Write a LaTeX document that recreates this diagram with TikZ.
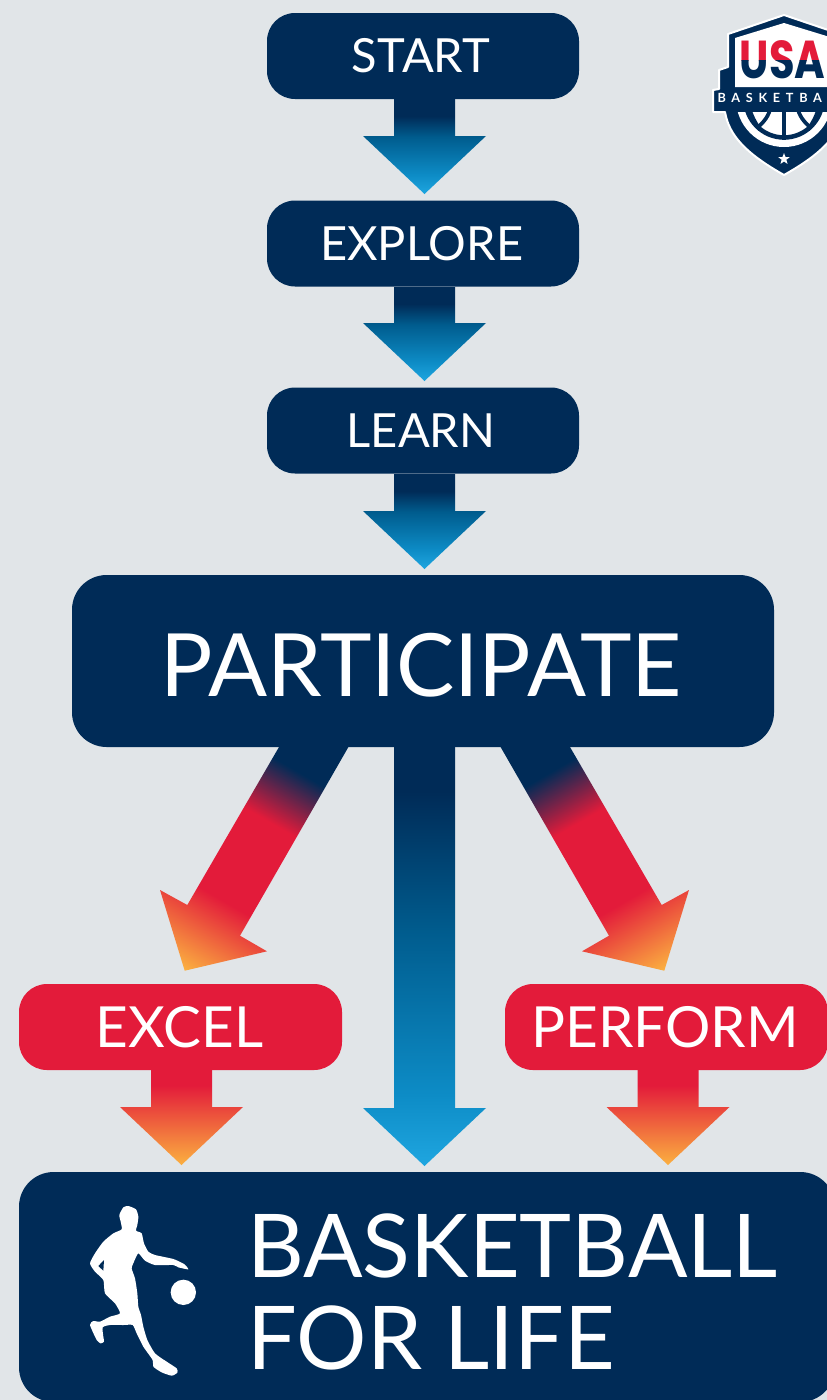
\documentclass[tikz,border=0pt]{standalone}
\usepackage{fontspec}
\setmainfont{Lato}
\newfontfamily\usafont{Poppins}
\newfontfamily\bannerfont[LetterSpace=45]{Lato}
\usetikzlibrary{calc,shapes.geometric}
\definecolor{bgc}{HTML}{E1E5E8}
\definecolor{navyc}{HTML}{002B57}
\definecolor{redc}{HTML}{E31B3A}
\definecolor{brightc}{HTML}{1FA6E0}
\definecolor{midbluec}{HTML}{0D8CC6}
\definecolor{deepbluec}{HTML}{005C8E}
\definecolor{orangec}{HTML}{FBB040}
\pgfdeclareverticalshading{blueSmall}{100bp}{color(0bp)=(brightc);color(25bp)=(brightc);color(35bp)=(midbluec);color(55bp)=(deepbluec);color(66bp)=(navyc);color(100bp)=(navyc)}
\pgfdeclareverticalshading{blueLong}{100bp}{color(0bp)=(brightc);color(25bp)=(brightc);color(33.5bp)=(midbluec);color(53bp)=(deepbluec);color(69.7bp)=(navyc);color(100bp)=(navyc)}
\pgfdeclareverticalshading{redSmall}{100bp}{color(0bp)=(orangec);color(25bp)=(orangec);color(67bp)=(redc);color(100bp)=(redc)}
\pgfdeclareverticalshading{diagShade}{100bp}{color(0bp)=(orangec);color(25bp)=(orangec);color(39.4bp)=(redc);color(56bp)=(redc);color(66.5bp)=(navyc);color(100bp)=(navyc)}
\tikzset{
  flowbox/.style={rectangle,rounded corners=21pt,inner sep=0pt,text=white,minimum height=64.5pt},
  navybox/.style={flowbox,fill=navyc,minimum width=234pt,font=\fontsize{35.3}{38}\selectfont},
  redbox/.style={flowbox,fill=redc,minimum width=242.25pt,font=\fontsize{42.5}{46}\selectfont},
  bigbox/.style={rectangle,rounded corners=26pt,inner sep=0pt,fill=navyc,text=white},
}
% vertical block arrow: from base coordinate to tip coordinate
\newcommand{\vblock}[3]{\shade[shading=#3]
  ($(#1)+(-30.5,0)$) -- ($(#1)+(30.5,0)$) -- ($(#2)+(30.5,-58)$) -- ($(#2)+(61.5,-58)$) -- (#2)
  -- ($(#2)+(-61.5,-58)$) -- ($(#2)+(-30.5,-58)$) -- cycle;}
\begin{document}
\begin{tikzpicture}[x=0.75pt,y=-0.75pt]
\useasboundingbox (0,0) rectangle (827,1400);
\fill[bgc] (0,0) rectangle (827,1400);
\clip (0,0) rectangle (827,1400);

% boxes
\node[navybox] (start) at (423,56) {START\kern3pt};
\node[navybox] (explore) at (423,243.5) {EXPLORE\kern2pt};
\node[navybox] (learn) at (423,430.5) {LEARN\kern3pt};
\node[bigbox,minimum width=526.5pt,minimum height=129pt,text height=54pt,font=\fontsize{65.5}{70}\selectfont] (participate) at (423,661) {PARTICIPATE\kern3pt};
\node[redbox] (excel) at (180.5,1027) {EXCEL\kern1.5pt};
\node[redbox] (perform) at (666.5,1027) {PERFORM\kern2pt};
\node[bigbox,minimum width=612pt,minimum height=172.5pt] (life) at (427,1287) {};
\node[anchor=west,inner sep=0pt,text=white,align=left,font=\fontsize{66}{69.5}\selectfont] (lifetext) at (247,1292) {BASKETBALL\\FOR LIFE};

% arrow ends
\coordinate (a1) at (424.5,99);   \coordinate (t1) at (424.5,194);
\coordinate (a2) at (424.5,287);  \coordinate (t2) at (424.5,381);
\coordinate (a3) at (424.5,474);  \coordinate (t3) at (424.5,569);
\coordinate (a4) at (424.5,747);  \coordinate (t4) at (424.5,1166);
\coordinate (a5) at (181.5,1070); \coordinate (t5) at (181.5,1165);
\coordinate (a6) at (668,1070);   \coordinate (t6) at (668,1165);
\coordinate (dl) at (314,746.5);  \coordinate (tl) at (184.7,970.7);
\coordinate (dr) at (535,746.5);  \coordinate (tr) at (664.3,970.7);
\coordinate (cl) at (253.75,850.9);
\coordinate (cr) at (595.25,850.9);

\vblock{a1}{t1}{blueSmall}
\vblock{a2}{t2}{blueSmall}
\vblock{a3}{t3}{blueSmall}
\vblock{a4}{t4}{blueLong}
\vblock{a5}{t5}{redSmall}
\vblock{a6}{t6}{redSmall}

\begin{scope}
\clip ($(dl)+(-34.7,0)$) -- ($(dl)+(34.7,0)$) -- ($(tl)+(55.3,-35)$) -- ($(tl)+(82.3,-19.4)$) -- (tl)
  -- ($(tl)+(-24.7,-80.7)$) -- ($(tl)+(2.6,-65.7)$) -- cycle;
\shade[shading=diagShade,shading angle=-30] ($(cl)+(-138.3,-138.3)$) rectangle ($(cl)+(138.3,138.3)$);
\end{scope}
\begin{scope}
\clip ($(dr)+(34.7,0)$) -- ($(dr)+(-34.7,0)$) -- ($(tr)+(-55.3,-35)$) -- ($(tr)+(-82.3,-19.4)$) -- (tr)
  -- ($(tr)+(24.7,-80.7)$) -- ($(tr)+(-2.6,-65.7)$) -- cycle;
\shade[shading=diagShade,shading angle=30] ($(cr)+(-138.3,-138.3)$) rectangle ($(cr)+(138.3,138.3)$);
\end{scope}

% player
\begin{scope}[shift={(60,1190)},x=0.25pt,y=-0.25pt]
\fill[white] plot[smooth cycle,tension=0.35] coordinates {
 (205,48)(228,58)(235,80)(232,105)(228,122)(245,130)(252,160)(265,185)(285,195)(340,207)(372,222)(385,238)
 (355,232)(340,225)(285,225)(255,212)(235,190)(222,215)(215,235)(225,265)(232,310)(235,350)(243,375)(250,410)
 (262,450)(285,490)(320,515)(350,535)(352,548)(335,557)(305,547)(280,530)(278,510)(250,470)(230,430)(218,405)
 (190,405)(150,405)(128,412)(130,440)(132,455)(122,460)(110,450)(90,405)(100,393)(120,395)(150,380)(180,370)
 (165,340)(135,310)(130,270)(105,245)(90,220)(105,190)(130,155)(160,130)(185,118)(182,95)(178,75)(190,52)};
\fill[navyc] (132,210) -- (115,228) -- (130,242) -- cycle;
\fill[white] (370,307) circle[radius=38];
\end{scope}

% logo
\fill[navyc,draw=white,line width=1.5pt,line join=round]
  (784,15) -- (728,34) -- (728,67) -- (719,70) -- (719,89) -- (713,90) -- (713,112) -- (725,112)
  .. controls (729,135) and (745,153) .. (784,175)
  .. controls (823,153) and (839,135) .. (843,112) -- (855,112) -- (855,90) -- (840,34) -- cycle;
\fill[white] (784,23) -- (735,38) -- (735,87) -- (833,87) -- (833,38) -- cycle;
\begin{scope}
  \clip (735,38) rectangle (833,60);
  \node[inner sep=0pt,text=redc,font=\usafont\bfseries\fontsize{40}{40}\selectfont] (usatop) at (782.5,60) {\scalebox{0.78}[1]{USA}};
\end{scope}
\begin{scope}
  \clip (735,60) rectangle (833,87);
  \node[inner sep=0pt,text=navyc,font=\usafont\bfseries\fontsize{40}{40}\selectfont] (usabot) at (782.5,60) {\scalebox{0.78}[1]{USA}};
\end{scope}
\begin{scope}
  \clip (713,112) rectangle (855,150);
  \fill[white] (784,99) circle[radius=48];
  \draw[navyc,line width=3.4pt] (784,99) circle[radius=38.5];
  \draw[navyc,line width=3.4pt] (784,105) -- (784,140);
  \draw[navyc,line width=2.8pt] (749,106) .. controls (751,116) and (755,122) .. (760,130);
  \draw[navyc,line width=2.8pt] (771,106) .. controls (769,116) and (764,122) .. (757,128);
  \draw[navyc,line width=2.8pt] (819,106) .. controls (817,116) and (813,122) .. (808,130);
  \draw[navyc,line width=2.8pt] (797,106) .. controls (799,116) and (804,122) .. (811,128);
\end{scope}
\node[inner sep=0pt,text=white,font=\bannerfont\bfseries\fontsize{9.5}{10}\selectfont] (banner) at (782,97.5) {BASKETBALL};
\node[star,star points=5,star point ratio=2.4,fill=white,inner sep=0pt,minimum size=9pt] (logostar) at (784,159) {};
\end{tikzpicture}
\end{document}
